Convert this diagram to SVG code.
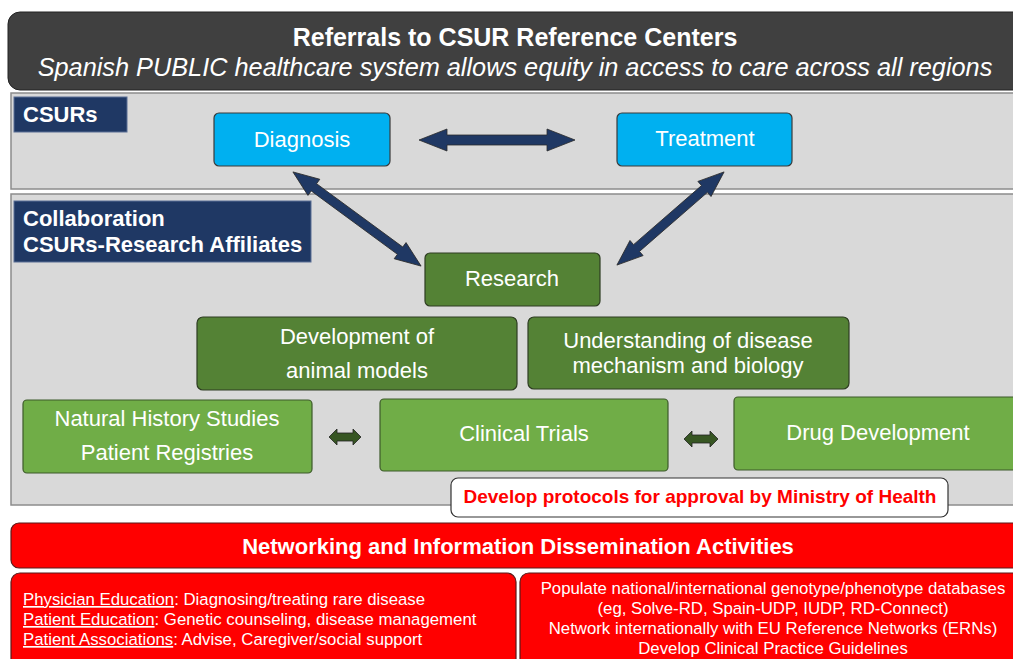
<svg xmlns="http://www.w3.org/2000/svg" width="1013" height="659" viewBox="0 0 1013 659">
<style>
text{font-family:"Liberation Sans",Arial,sans-serif;}
.w{fill:#fff;}
.c{text-anchor:middle;}
.panel{fill:#d9d9d9;stroke:#8c8c8c;stroke-width:1.5;}
.lab{fill:#1f3864;stroke:#5b6f95;stroke-width:1;}
.blue{fill:#00b0f0;stroke:#3a3a3a;stroke-width:1.2;}
.dg{fill:#548235;stroke:#2e3d22;stroke-width:1.2;}
.lg{fill:#70ad47;stroke:#3d5a2a;stroke-width:1.2;}
.red{fill:#ff0000;stroke:#5a1a1a;stroke-width:1.2;}
.arr{fill:#1f3864;stroke:#2b2b2b;stroke-width:0.8;}
.garr{fill:#375623;stroke:#222;stroke-width:0.8;}
.t20{font-size:22px;}
.t16{font-size:16.8px;}
</style>
<rect width="1013" height="659" fill="#fff"/>
<g id="banner">
<rect x="8" y="12" width="1030" height="78" rx="12" fill="#404040" stroke="#222" stroke-width="1"/>
<text x="515" y="46" class="w c" font-size="25" font-weight="bold">Referrals to CSUR Reference Centers</text>
<text x="515" y="76" class="w c" font-size="25.3" font-style="italic">Spanish PUBLIC healthcare system allows equity in access to care across all regions</text>
</g>
<g id="csurs-panel">
<rect x="11" y="93" width="1020" height="96" class="panel"/>
<rect x="14" y="97" width="113" height="35" class="lab"/>
<text x="23" y="122" class="w" font-size="22" font-weight="bold">CSURs</text>
</g>
<g id="collab-panel">
<rect x="11" y="194" width="1020" height="311" class="panel"/>
<rect x="14" y="201" width="297" height="61" class="lab"/>
<text x="23" y="226" class="w" font-size="22" font-weight="bold">Collaboration</text>
<text x="23" y="252" class="w" font-size="22" font-weight="bold">CSURs-Research Affiliates</text>
</g>
<g id="connectors">
<polygon class="arr" transform="translate(497,140)" points="-78,0 -50,-11 -50,-5 50,-5 50,-11 78,0 50,11 50,5 -50,5 -50,11"/>
<polygon class="arr" transform="translate(357,219) rotate(36.3)" points="-79.5,0 -53.5,-10 -53.5,-4.5 53.5,-4.5 53.5,-10 79.5,0 53.5,10 53.5,4.5 -53.5,4.5 -53.5,10"/>
<polygon class="arr" transform="translate(670.5,218.5) rotate(-41)" points="-71,0 -45,-10 -45,-4.5 45,-4.5 45,-10 71,0 45,10 45,4.5 -45,4.5 -45,10"/>
<polygon class="garr" transform="translate(345,437)" points="-16,0 -8,-8 -8,-4 8,-4 8,-8 16,0 8,8 8,4 -8,4 -8,8"/>
<polygon class="garr" transform="translate(701,439)" points="-17,0 -9,-8 -9,-4 9,-4 9,-8 17,0 9,8 9,4 -9,4 -9,8"/>
</g>
<g id="diagnosis">
<rect x="214" y="113" width="176" height="53" rx="5" class="blue"/>
<text x="302" y="147" class="w c t20">Diagnosis</text>
</g>
<g id="treatment">
<rect x="617" y="113" width="175" height="53" rx="5" class="blue"/>
<text x="705" y="146" class="w c t20">Treatment</text>
</g>
<g id="research">
<rect x="425" y="253" width="175" height="53" rx="5" class="dg"/>
<text x="512" y="286" class="w c t20">Research</text>
</g>
<g id="animal-models">
<rect x="197" y="317" width="320" height="73" rx="6" class="dg"/>
<text x="357" y="344" class="w c t20">Development of</text>
<text x="357" y="378" class="w c t20">animal models</text>
</g>
<g id="disease-mechanism">
<rect x="528" y="317" width="321" height="72" rx="6" class="dg"/>
<text x="688" y="348" class="w c t20">Understanding of disease</text>
<text x="688" y="373" class="w c t20">mechanism and biology</text>
</g>
<g id="natural-history">
<rect x="23" y="400" width="289" height="73" rx="4" class="lg"/>
<text x="167" y="426" class="w c t20">Natural History Studies</text>
<text x="167" y="460" class="w c t20">Patient Registries</text>
</g>
<g id="clinical-trials">
<rect x="380" y="399" width="288" height="72" rx="4" class="lg"/>
<text x="524" y="441" class="w c t20">Clinical Trials</text>
</g>
<g id="drug-development">
<rect x="734" y="397" width="300" height="73" rx="4" class="lg"/>
<text x="878" y="440" class="w c t20">Drug Development</text>
</g>
<g id="protocols">
<rect x="451" y="478" width="497" height="39" rx="7" fill="#fff" stroke="#333" stroke-width="1.2"/>
<text x="700" y="503" class="c" font-size="19" font-weight="bold" fill="#ff0000">Develop protocols for approval by Ministry of Health</text>
</g>
<g id="networking">
<rect x="11" y="523" width="1020" height="45" rx="8" class="red"/>
<text x="518" y="554" class="w c" font-size="22" font-weight="bold">Networking and Information Dissemination Activities</text>
</g>
<g id="education">
<rect x="11" y="573" width="505" height="100" rx="9" class="red"/>
<text x="23" y="605" class="w t16"><tspan text-decoration="underline">Physician Education</tspan>: Diagnosing/treating rare disease</text>
<text x="23" y="625" class="w t16"><tspan text-decoration="underline">Patient Education</tspan>: Genetic counseling, disease management</text>
<text x="23" y="645" class="w t16"><tspan text-decoration="underline">Patient Associations</tspan>: Advise, Caregiver/social support</text>
</g>
<g id="databases">
<rect x="520" y="573" width="510" height="100" rx="9" class="red"/>
<text x="773" y="594" class="w c t16">Populate national/international genotype/phenotype databases</text>
<text x="773" y="614" class="w c t16">(eg, Solve-RD, Spain-UDP, IUDP, RD-Connect)</text>
<text x="773" y="634" class="w c t16">Network internationally with EU Reference Networks (ERNs)</text>
<text x="773" y="654" class="w c t16">Develop Clinical Practice Guidelines</text>
</g>
</svg>
